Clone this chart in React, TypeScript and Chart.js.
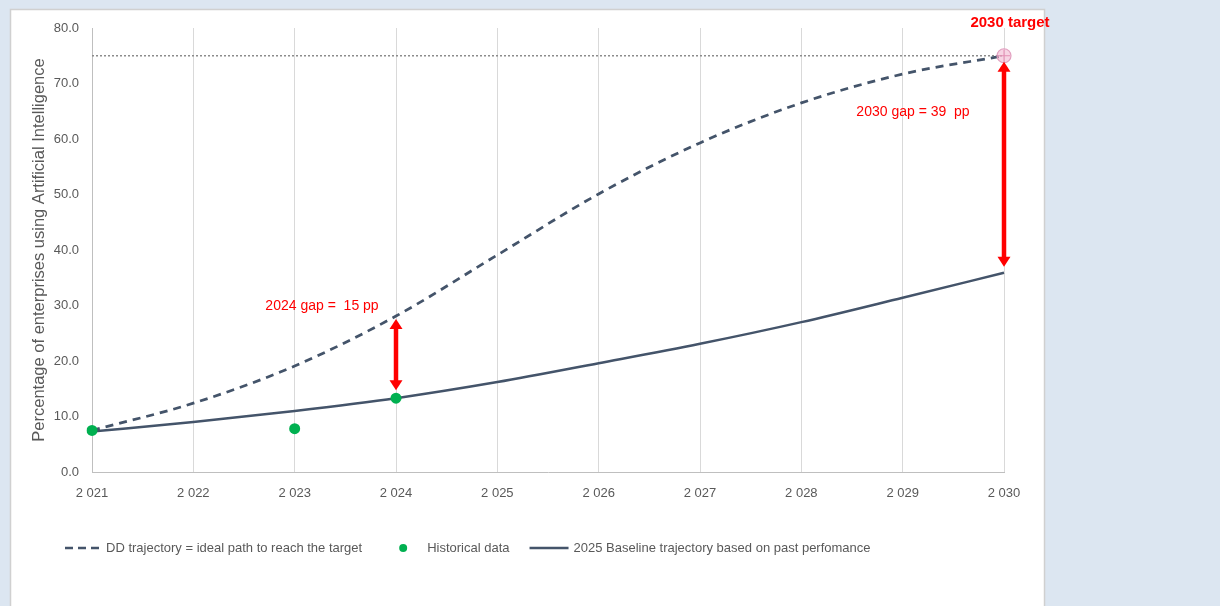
import React, { useEffect, useRef } from 'react';
import { Chart, registerables } from 'chart.js';

Chart.register(...registerables);

// ---------- data ----------
const years = [2021, 2022, 2023, 2024, 2025, 2026, 2027, 2028, 2029, 2030];
const ddTrajectory = [7.5, 12.4, 19.1, 28.1, 39.1, 50.1, 59.3, 66.5, 71.7, 75.0];
const baseline = [7.3, 9.0, 11.0, 13.3, 16.2, 19.6, 23.1, 27.0, 31.4, 35.9];
const historical: (number | null)[] = [7.5, null, 7.8, 13.3, null, null, null, null, null, null];
const targetYear = 2030;
const targetValue = 75;
const yTicks = [0, 10, 20, 30, 40, 50, 60, 70, 80];
const gapYears = [2024, 2030];
const gapLabels = ['2024 gap =  15 pp', '2030 gap = 39  pp'];
const targetLabel = '2030 target';
const yTitle = 'Percentage of enterprises using Artificial Intelligence';
const legendLabels = [
  'DD trajectory = ideal path to reach the target',
  'Historical data',
  '2025 Baseline trajectory based on past perfomance',
];

// ---------- styles ----------
const FONT = "'Liberation Sans', Arial, sans-serif";
const LINE = '#44546a';
const GREEN = '#00b050';
const RED = '#ff0000';
const TEXT = '#595959';
const BG = '#dce6f1';

const fmtYear = (y: number) => String(y).replace(/^(\d)(\d{3})$/, '$1 $2');

const panelPlugin = {
  id: 'panel',
  beforeDraw(chart: any) {
    const { ctx, width, height } = chart;
    ctx.save();
    ctx.fillStyle = BG;
    ctx.fillRect(0, 0, width, height);
    ctx.fillStyle = '#ffffff';
    ctx.fillRect(10, 9, 1034, height - 9);
    ctx.strokeStyle = '#d0d0d0';
    ctx.lineWidth = 1.5;
    ctx.strokeRect(10.5, 9.5, 1034, height);
    ctx.restore();
  },
};

function arrowHead(ctx: CanvasRenderingContext2D, x: number, y: number, dir: number) {
  ctx.beginPath();
  ctx.moveTo(x, y);
  ctx.lineTo(x - 6.5, y + dir * 10);
  ctx.lineTo(x + 6.5, y + dir * 10);
  ctx.closePath();
  ctx.fill();
}

const annotationPlugin = {
  id: 'annot',
  afterDatasetsDraw(chart: any) {
    const { ctx } = chart;
    const xs = chart.scales.x;
    const ys = chart.scales.y;
    ctx.save();
    gapYears.forEach((yr, i) => {
      const idx = years.indexOf(yr);
      const x = xs.getPixelForValue(idx);
      const yTop = ys.getPixelForValue(ddTrajectory[idx]) + (i === 0 ? 3 : 6);
      const yBot = ys.getPixelForValue(baseline[idx]) - (i === 0 ? 8 : 6);
      ctx.strokeStyle = RED;
      ctx.fillStyle = RED;
      ctx.lineWidth = 4.5;
      ctx.beginPath();
      ctx.moveTo(x, yTop + 8);
      ctx.lineTo(x, yBot - 8);
      ctx.stroke();
      arrowHead(ctx, x, yTop, 1);
      arrowHead(ctx, x, yBot, -1);
      ctx.font = `14px ${FONT}`;
      ctx.textAlign = 'center';
      ctx.textBaseline = 'middle';
      const off = i === 0 ? { dx: -74, y: 306 } : { dx: -91, y: 112 };
      ctx.fillText(gapLabels[i], x + off.dx, off.y);
    });
    const ti = years.indexOf(targetYear);
    const tx = xs.getPixelForValue(ti);
    const ty = ys.getPixelForValue(targetValue);
    ctx.font = `bold 15px ${FONT}`;
    ctx.fillStyle = RED;
    ctx.textAlign = 'center';
    ctx.textBaseline = 'middle';
    ctx.fillText(targetLabel, tx + 6, ty - 33);
    ctx.restore();
  },
  afterDraw(chart: any) {
    const { ctx } = chart;
    ctx.save();
    const y = 548;
    ctx.font = `13px ${FONT}`;
    ctx.fillStyle = TEXT;
    ctx.textBaseline = 'middle';
    ctx.textAlign = 'left';
    let x = 65;
    ctx.strokeStyle = LINE;
    ctx.lineWidth = 2.5;
    ctx.setLineDash([8, 5]);
    ctx.beginPath();
    ctx.moveTo(x, y);
    ctx.lineTo(x + 36, y);
    ctx.stroke();
    ctx.setLineDash([]);
    x += 41;
    ctx.fillText(legendLabels[0], x, y);
    x += ctx.measureText(legendLabels[0]).width + 41;
    ctx.fillStyle = GREEN;
    ctx.beginPath();
    ctx.arc(x, y, 4, 0, Math.PI * 2);
    ctx.fill();
    x += 24;
    ctx.fillStyle = TEXT;
    ctx.fillText(legendLabels[1], x, y);
    x += ctx.measureText(legendLabels[1]).width + 20;
    ctx.strokeStyle = LINE;
    ctx.lineWidth = 2.5;
    ctx.beginPath();
    ctx.moveTo(x, y);
    ctx.lineTo(x + 39, y);
    ctx.stroke();
    x += 44;
    ctx.fillText(legendLabels[2], x, y);
    ctx.restore();
  },
};

export default function App() {
  const ref = useRef<HTMLCanvasElement | null>(null);
  useEffect(() => {
    if (!ref.current) return;
    const ti = years.indexOf(targetYear);
    const targetLine = years.map(() => targetValue);
    const targetPoint = years.map((_, i) => (i === ti ? targetValue : null));
    const chart = new Chart(ref.current, {
      type: 'line',
      data: {
        labels: years.map(fmtYear),
        datasets: [
          {
            label: 'target line',
            data: targetLine,
            borderColor: '#8c8c8c',
            borderWidth: 1.5,
            borderDash: [2, 2],
            pointRadius: 0,
            fill: false,
            order: 5,
          },
          {
            label: legendLabels[0],
            data: ddTrajectory,
            borderColor: LINE,
            borderWidth: 2.75,
            borderDash: [8, 6],
            pointRadius: 0,
            cubicInterpolationMode: 'monotone',
            fill: false,
            order: 4,
          },
          {
            label: legendLabels[2],
            data: baseline,
            borderColor: LINE,
            borderWidth: 2.5,
            pointRadius: 0,
            cubicInterpolationMode: 'monotone',
            fill: false,
            order: 3,
          },
          {
            label: legendLabels[1],
            data: historical,
            showLine: false,
            pointRadius: 5.5,
            pointBackgroundColor: GREEN,
            pointBorderColor: GREEN,
            pointBorderWidth: 0,
            order: 2,
          },
          {
            label: 'target',
            data: targetPoint,
            showLine: false,
            pointStyle: 'circle',
            pointRadius: 7,
            pointBackgroundColor: 'rgba(240,170,200,0.5)',
            pointBorderColor: '#e2a0c0',
            pointBorderWidth: 1.2,
            order: 1,
          },
          {
            label: 'target cross',
            data: targetPoint,
            showLine: false,
            pointStyle: 'cross',
            pointRadius: 6,
            pointBorderColor: '#e58fb5',
            pointBorderWidth: 1,
            order: 0,
          },
        ],
      },
      options: {
        animation: false,
        responsive: true,
        maintainAspectRatio: false,
        layout: { padding: { left: 0, right: 216, top: 28, bottom: 0 } },
        plugins: {
          legend: { display: false },
          tooltip: { enabled: false },
        },
        scales: {
          x: {
            type: 'category',
            offset: false,
            grid: { display: true, color: '#d9d9d9', lineWidth: 1, drawTicks: false },
            border: { display: true, color: '#bfbfbf', width: 1 },
            ticks: { color: TEXT, font: { family: FONT, size: 13 }, padding: 14, maxRotation: 0, autoSkip: false },
            afterFit: (s: any) => {
              s.height = 134;
            },
          },
          y: {
            min: 0,
            max: 80,
            grid: { display: false, drawTicks: false },
            border: { display: true, color: '#bfbfbf', width: 1 },
            afterBuildTicks: (s: any) => {
              s.ticks = yTicks.map((v) => ({ value: v }));
            },
            ticks: {
              color: TEXT,
              font: { family: FONT, size: 13 },
              padding: 13,
              callback: (v: any) => Number(v).toFixed(1),
            },
            title: {
              display: true,
              text: yTitle,
              color: TEXT,
              font: { family: FONT, size: 16.5 },
              padding: { top: 30, bottom: 0 },
            },
            afterFit: (s: any) => {
              s.width = 92;
            },
          },
        },
      },
      plugins: [panelPlugin, annotationPlugin],
    } as any);
    return () => chart.destroy();
  }, []);
  return (
    <div style={{ position: 'fixed', left: 0, top: 0, width: 1220, height: 606 }}>
      <canvas ref={ref} />
    </div>
  );
}
